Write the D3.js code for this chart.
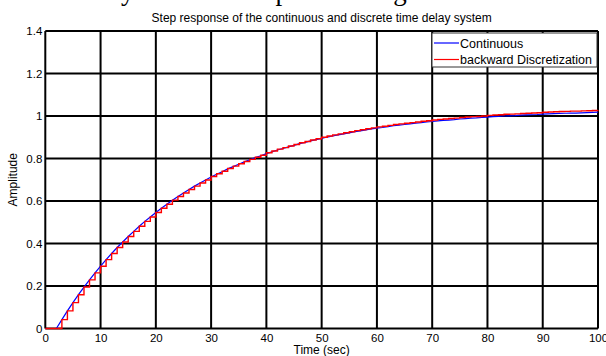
<!DOCTYPE html>
<html>
<head>
<meta charset="utf-8">
<script src="https://cdn.jsdelivr.net/npm/d3@7"></script>
<style>
  body { margin: 0; background: #fff; }
  text { font-family: "Liberation Sans", Arial, sans-serif; }
</style>
</head>
<body>
<script>
const width = 606;
const height = 356;
const margin = {top: 31, right: 8, bottom: 27.5, left: 45.3};

const chartTitle = "Step response of the continuous and discrete time delay system";
const xLabel = "Time (sec)";
const yLabel = "Amplitude";
const xTicks = [0, 10, 20, 30, 40, 50, 60, 70, 80, 90, 100];
const yTicks = [0, 0.2, 0.4, 0.6, 0.8, 1, 1.2, 1.4];
const seriesNames = ["Continuous", "backward Discretization"];

// time in seconds, one sample per second
const time = d3.range(0, 101);

const continuous = [0, 0, 0, 0.042, 0.083, 0.122, 0.159, 0.195, 0.229, 0.262,
  0.293, 0.324, 0.353, 0.381, 0.407, 0.433, 0.457, 0.481, 0.504, 0.525,
  0.546, 0.566, 0.585, 0.604, 0.621, 0.638, 0.654, 0.670, 0.685, 0.699,
  0.713, 0.726, 0.738, 0.751, 0.762, 0.773, 0.784, 0.794, 0.804, 0.813,
  0.823, 0.831, 0.840, 0.847, 0.855, 0.862, 0.870, 0.876, 0.883, 0.889,
  0.895, 0.901, 0.906, 0.911, 0.916, 0.921, 0.926, 0.930, 0.935, 0.939,
  0.943, 0.946, 0.950, 0.954, 0.957, 0.960, 0.963, 0.966, 0.969, 0.972,
  0.974, 0.977, 0.979, 0.981, 0.983, 0.986, 0.988, 0.990, 0.991, 0.993,
  0.995, 0.997, 0.998, 1.000, 1.001, 1.002, 1.004, 1.005, 1.006, 1.007,
  1.009, 1.010, 1.011, 1.012, 1.013, 1.014, 1.014, 1.015, 1.016, 1.017,
  1.018];

const discrete = [0, 0, 0, 0.042, 0.083, 0.122, 0.159, 0.195, 0.229, 0.262,
  0.293, 0.324, 0.353, 0.381, 0.407, 0.433, 0.457, 0.481, 0.504, 0.525,
  0.546, 0.566, 0.585, 0.604, 0.621, 0.638, 0.654, 0.670, 0.685, 0.699,
  0.715, 0.728, 0.740, 0.753, 0.764, 0.775, 0.786, 0.796, 0.806, 0.815,
  0.827, 0.835, 0.844, 0.851, 0.859, 0.866, 0.874, 0.880, 0.887, 0.893,
  0.900, 0.906, 0.911, 0.916, 0.921, 0.926, 0.931, 0.935, 0.940, 0.944,
  0.949, 0.952, 0.956, 0.960, 0.963, 0.966, 0.969, 0.972, 0.975, 0.978,
  0.981, 0.984, 0.986, 0.988, 0.990, 0.993, 0.995, 0.997, 0.998, 1.000,
  1.003, 1.005, 1.006, 1.008, 1.009, 1.010, 1.012, 1.013, 1.014, 1.015,
  1.018, 1.019, 1.020, 1.021, 1.022, 1.023, 1.023, 1.024, 1.025, 1.026,
  1.027];

const svg = d3.select("body").append("svg")
  .attr("width", width)
  .attr("height", height);

// cropped caption line from the page above the figure, only descenders show
const caption = "Continuous system and response using the";
const capText = svg.append("text")
  .attr("y", -0.5)
  .style("font-family", "'Liberation Serif', 'Times New Roman', serif")
  .style("font-size", "27px")
  .style("word-spacing", "3px")
  .text(caption);
const yPos = capText.node().getSubStringLength(0, caption.indexOf("y"));
capText.attr("x", 121 - yPos);

const x = d3.scaleLinear().domain([0, 100]).range([margin.left, width - margin.right]);
const y = d3.scaleLinear().domain([0, 1.4]).range([height - margin.bottom, margin.top]);

// grid
svg.append("g")
  .selectAll("line")
  .data(xTicks)
  .join("line")
  .attr("x1", d => x(d)).attr("x2", d => x(d))
  .attr("y1", y(0)).attr("y2", y(1.4))
  .attr("stroke", "#000").attr("stroke-width", 2);

svg.append("g")
  .selectAll("line")
  .data(yTicks)
  .join("line")
  .attr("x1", x(0)).attr("x2", x(100))
  .attr("y1", d => y(d)).attr("y2", d => y(d))
  .attr("stroke", "#000").attr("stroke-width", 2);

const xAxis = svg.append("g")
  .attr("transform", `translate(0,${y(0)})`)
  .call(d3.axisBottom(x).tickValues(xTicks).tickSize(0).tickPadding(5));
xAxis.select(".domain").remove();
xAxis.selectAll("text").style("font-size", "11.5px").attr("fill", "#000");

const yAxis = svg.append("g")
  .attr("transform", `translate(${x(0)},0)`)
  .call(d3.axisLeft(y).tickValues(yTicks).tickFormat(d3.format("~g")).tickSize(0).tickPadding(3));
yAxis.select(".domain").remove();
yAxis.selectAll("text").style("font-size", "11.5px").attr("fill", "#000");

// lines
svg.append("path")
  .datum(time)
  .attr("fill", "none")
  .attr("stroke", "#0000ff")
  .attr("stroke-width", 1.2)
  .attr("d", d3.line().x(i => x(time[i])).y(i => y(continuous[i])));

svg.append("path")
  .datum(time)
  .attr("fill", "none")
  .attr("stroke", "#ff0000")
  .attr("stroke-width", 1.4)
  .attr("d", d3.line().curve(d3.curveStepAfter).x(i => x(time[i])).y(i => y(discrete[i])));

// titles
svg.append("text")
  .attr("x", (x(0) + x(100)) / 2)
  .attr("y", 22)
  .attr("text-anchor", "middle")
  .style("font-size", "12px")
  .text(chartTitle);

svg.append("text")
  .attr("x", (x(0) + x(100)) / 2)
  .attr("y", 354)
  .attr("text-anchor", "middle")
  .style("font-size", "12px")
  .text(xLabel);

svg.append("text")
  .attr("transform", `translate(17,${(y(0) + y(1.4)) / 2}) rotate(-90)`)
  .attr("text-anchor", "middle")
  .style("font-size", "12px")
  .text(yLabel);

// legend
const legend = svg.append("g").attr("transform", "translate(432,33)");
legend.append("rect")
  .attr("width", 165).attr("height", 34)
  .attr("fill", "#fff").attr("stroke", "#333").attr("stroke-width", 1);
const legendColors = ["#0000ff", "#ff0000"];
seriesNames.forEach((name, i) => {
  legend.append("line")
    .attr("x1", 2).attr("x2", 27)
    .attr("y1", 10 + i * 16.5).attr("y2", 10 + i * 16.5)
    .attr("stroke", legendColors[i]).attr("stroke-width", 1.2);
  legend.append("text")
    .attr("x", 28).attr("y", 14.5 + i * 16.5)
    .style("font-size", "12.5px")
    .text(name);
});
</script>
</body>
</html>
